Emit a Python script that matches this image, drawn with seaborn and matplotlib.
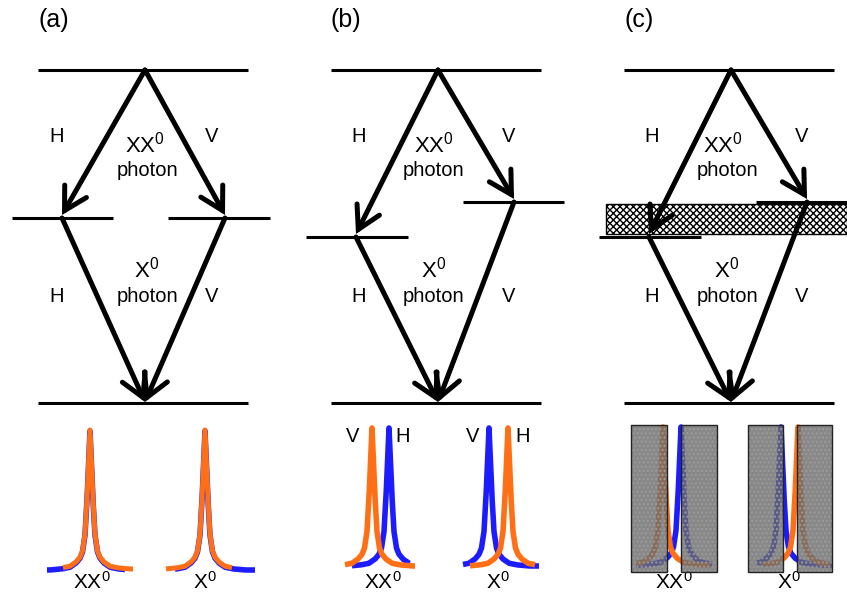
import numpy as np
import pandas as pd
import matplotlib
matplotlib.use("Agg")
import matplotlib.pyplot as plt
from matplotlib.patches import Rectangle, ArrowStyle
import seaborn as sns

sns.set_theme(style="white")
plt.rcParams["font.family"] = ["Liberation Sans", "DejaVu Sans"]
plt.rcParams["text.color"] = "black"
plt.rcParams["mathtext.fontset"] = "custom"
plt.rcParams["mathtext.rm"] = "Liberation Sans"
plt.rcParams["hatch.linewidth"] = 1.0

# ---- data -------------------------------------------------------------
panel_labels = ["(a)", "(b)", "(c)"]
transition_names = [r"$\mathregular{XX^0}$", r"$\mathregular{X^0}$"]
photon_word = "photon"
polarisations = ["H", "V"]

# emission line shape: offset from line centre (px) vs. relative intensity
profile_offset = [0, 1.5, 3, 5, 7.5, 10, 14, 20, 28, 40]
profile_value = [1.0, 0.75, 0.50, 0.25, 0.13, 0.085, 0.05, 0.02, 0.008, 0.0]

# line centres for each panel (H and V components of XX0 and X0)
xx_H_centre = [90, 389, 681]
xx_V_centre = [90, 372, 663]
x_H_centre = [205, 508, 798]
x_V_centre = [205, 489, 781]

# spectral windows of each recorded trace (left, right)
xx_H_span = [(47, 125), (352, 410), (636, 712)]
xx_V_span = [(63, 133), (345, 415), (636, 710)]
x_H_span = [(175, 255), (470, 535), (762, 830)]
x_V_span = [(166, 232), (463, 539), (757, 832)]

BLUE = "#1c1cff"
ORANGE = "#ff7016"

# ---- figure -----------------------------------------------------------
fig = plt.figure(figsize=(8.47, 5.93), dpi=100)
ax = fig.add_axes([0, 0, 1, 1])
ax.set_xlim(0, 847)
ax.set_ylim(593, 0)
ax.axis("off")

LEVEL_LW = 2.2
ARROW_LW = 3.6
head = ArrowStyle("->", head_length=0.8, head_width=0.45)


def arrow(p0, p1):
    ax.annotate("", xy=p1, xytext=p0,
                arrowprops=dict(arrowstyle=head, lw=ARROW_LW, color="black",
                                shrinkA=0, shrinkB=0, mutation_scale=20,
                                joinstyle="miter"))


def level(x0, x1, y):
    ax.plot([x0, x1], [y, y], color="black", lw=LEVEL_LW, solid_capstyle="butt")


def trace(centre, span, base, height, color, lw):
    x = np.arange(span[0], span[1] + 0.25, 0.25)
    off = np.abs(x - centre)
    val = np.interp(off, profile_offset, profile_value)
    df = pd.DataFrame({"x": x, "y": base - height * val})
    sns.lineplot(data=df, x="x", y="y", ax=ax, color=color, lw=lw,
                 estimator=None, sort=False, solid_capstyle="butt")


TXT = 14.5
BIG = 16
pitch = 293
top_y, bot_y = 70, 403
# intermediate X0 levels: (left y, right y)
mid_levels = [(218, 218), (237, 202), (237, 202)]
# horizontal offsets of the intermediate levels from the cascade apex
mid_dx = [(-83, 80), (-82, 76), (-82, 76)]
bases = [569, 566, 565]
tops = [430, 428, 427]
word_dx = [2, -4, -4]
xx_dx = [0, -4, -8]

for i in range(3):
    apex = 145 + i * pitch
    ax.text(apex - 107, 20, panel_labels[i], fontsize=18, ha="left", va="center")

    # cascade levels
    level(apex - 107, apex + 103, top_y)
    level(apex - 107, apex + 103, bot_y)
    yl, yr = mid_levels[i]
    xl, xr = apex + mid_dx[i][0], apex + mid_dx[i][1]
    if i == 0:
        level(xl - 50, xl + 51, yl)
        level(xr - 57, xr + 45, yr)
    else:
        level(xl - 50, xl + 52, yl)
        level(xr - 51, min(xr + 50, 847), yr)

    if i == 2:
        ax.add_patch(Rectangle((606, 204), 241, 30, facecolor="white",
                               edgecolor="black", lw=1.0, hatch="xxxxx",
                               zorder=1))

    # radiative cascade
    arrow((apex, top_y), (xl, yl - 3))
    arrow((apex, top_y), (xr, yr - 3))
    arrow((xl, yl), (apex, bot_y - 1))
    arrow((xr, yr), (apex, bot_y - 1))

    # annotations
    hx = xl + (-5 if i == 0 else 3)
    vx = apex + 67 if i == 0 else apex + 71
    ax.text(hx, 137, polarisations[0], fontsize=TXT, ha="center", va="center")
    ax.text(vx, 137, polarisations[1], fontsize=TXT, ha="center", va="center")
    ax.text(apex + xx_dx[i], 145, transition_names[0], fontsize=BIG,
            ha="center", va="center")
    ax.text(apex + word_dx[i], 171, photon_word, fontsize=TXT, ha="center",
            va="center")
    ax.text(hx, 296, polarisations[0], fontsize=TXT, ha="center", va="center")
    ax.text(vx, 296, polarisations[1], fontsize=TXT, ha="center", va="center")
    ax.text(apex + word_dx[i], 270, transition_names[1], fontsize=BIG,
            ha="center", va="center")
    ax.text(apex + word_dx[i], 296, photon_word, fontsize=TXT, ha="center",
            va="center")

    # spectra
    b, h = bases[i], bases[i] - tops[i]
    if i == 0:
        trace(xx_H_centre[i], xx_H_span[i], b + 1, h, BLUE, 4.0)
        trace(x_H_centre[i], x_H_span[i], b + 1, h, BLUE, 4.0)
        trace(xx_V_centre[i], xx_V_span[i], b, h, ORANGE, 3.6)
        trace(x_V_centre[i], x_V_span[i], b, h, ORANGE, 3.6)
    else:
        trace(xx_H_centre[i], xx_H_span[i], b, h, BLUE, 4.0)
        trace(xx_V_centre[i], xx_V_span[i], b, h, ORANGE, 4.0)
        trace(x_V_centre[i], x_V_span[i], b, h, BLUE, 4.0)
        trace(x_H_centre[i], x_H_span[i], b, h, ORANGE, 4.0)

    xx_lab = (xx_H_centre[i] + xx_V_centre[i]) / 2 + 2
    x_lab = (x_H_centre[i] + x_V_centre[i]) / 2 + (0 if i == 0 else -1)
    ax.text(xx_lab, 593, transition_names[0], fontsize=15, ha="center",
            va="bottom")
    ax.text(x_lab, 593, transition_names[1], fontsize=15, ha="center",
            va="bottom")

    if i == 1:
        for xv, s in [(353, "V"), (403, "H"), (473, "V"), (523, "H")]:
            ax.text(xv, 437, s, fontsize=TXT, ha="center", va="center")

# spectral filters blocking the outer wings in panel (c)
for x0, x1 in [(631, 667), (681, 717), (748, 783), (797, 832)]:
    ax.add_patch(Rectangle((x0, 425), x1 - x0, 147, facecolor="#6a6a6a",
                           alpha=0.8, edgecolor="none", zorder=5))
    ax.add_patch(Rectangle((x0, 425), x1 - x0, 147, fill=False,
                           edgecolor="#9a9a9a", lw=0, hatch="....", zorder=6))
    ax.add_patch(Rectangle((x0, 425), x1 - x0, 147, fill=False,
                           edgecolor="#222222", lw=1.0, zorder=7))

fig.savefig("out.png", dpi=100)
